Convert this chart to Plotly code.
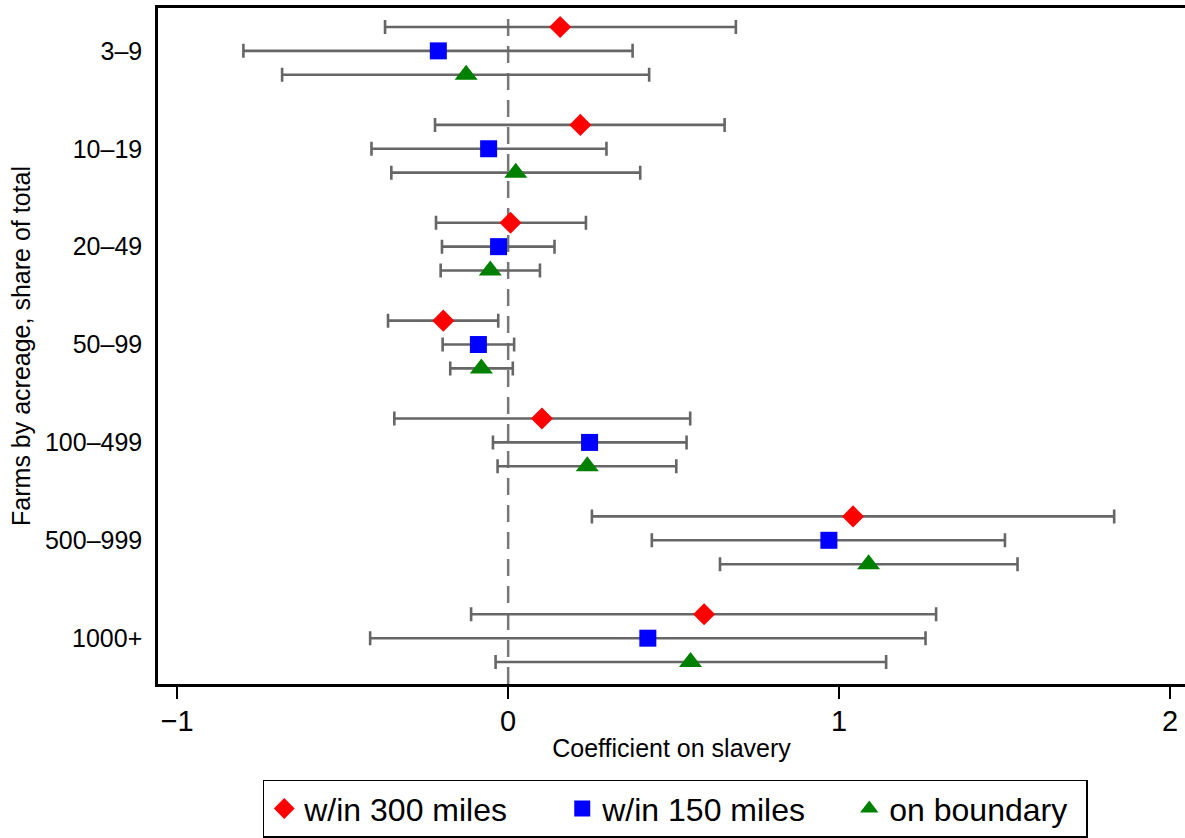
import plotly.graph_objects as go

categories = ["3\u20139", "10\u201319", "20\u201349", "50\u201399", "100\u2013499", "500\u2013999", "1000+"]
series_names = ["w/in 300 miles", "w/in 150 miles", "on boundary"]

# point estimates
est_300 = [0.157, 0.218, 0.007, -0.196, 0.102, 1.042, 0.592]
est_150 = [-0.211, -0.059, -0.029, -0.090, 0.246, 0.969, 0.422]
est_bnd = [-0.127, 0.023, -0.054, -0.081, 0.239, 1.089, 0.551]

# confidence interval bounds
lo_300 = [-0.372, -0.221, -0.218, -0.363, -0.344, 0.253, -0.112]
hi_300 = [0.688, 0.654, 0.235, -0.030, 0.550, 1.831, 1.293]
lo_150 = [-0.800, -0.413, -0.200, -0.198, -0.046, 0.434, -0.417]
hi_150 = [0.376, 0.297, 0.140, 0.018, 0.539, 1.501, 1.261]
lo_bnd = [-0.683, -0.353, -0.204, -0.175, -0.032, 0.640, -0.038]
hi_bnd = [0.426, 0.399, 0.096, 0.014, 0.508, 1.539, 1.142]

x_ticks = [-1, 0, 1, 2]
x_tick_text = ["\u22121", "0", "1", "2"]

FONT = "Liberation Sans, Arial, Helvetica, sans-serif"
ERR_COLOR = "#666666"

specs = [
    (series_names[0], est_300, lo_300, hi_300, "diamond", 17, "#ff0000", -0.244, 253),
    (series_names[1], est_150, lo_150, hi_150, "square", 17, "#0000ff", 0.0, 242),
    (series_names[2], est_bnd, lo_bnd, hi_bnd, "triangle-up", 20, "#008000", 0.244, 192),
]

fig = go.Figure()

for name, est, lo, hi, sym, sz, col, off, lw in specs:
    ypos = [i + 1 + off for i in range(len(categories))]
    fig.add_trace(go.Scatter(
        x=est, y=ypos, mode="markers", name=name,
        marker=dict(symbol=sym, size=sz, color=col, line=dict(width=0)),
        error_x=dict(type="data", symmetric=False,
                     array=[h - e for h, e in zip(hi, est)],
                     arrayminus=[e - l for e, l in zip(est, lo)],
                     color=ERR_COLOR, thickness=2.6, width=7),
        legendwidth=lw,
    ))

fig.add_shape(type="line", xref="x", yref="paper", x0=0, x1=0, y0=0, y1=0.99,
              line=dict(color="#777777", width=2.5, dash="17px,10px"), layer="below")

fig.update_layout(
    width=1185, height=838,
    margin=dict(l=158, r=0, t=8, b=152),
    paper_bgcolor="white", plot_bgcolor="white",
    font=dict(family=FONT, color="black"),
    showlegend=True,
    legend=dict(
        orientation="h", x=0.102, xanchor="left", y=-0.1416, yanchor="top",
        bordercolor="black", borderwidth=1.5, bgcolor="white",
        font=dict(size=32, family=FONT), itemwidth=30,
    ),
    xaxis=dict(
        range=[-1.058, 2.045], tickvals=x_ticks, ticktext=x_tick_text,
        showgrid=False, zeroline=False, showline=True, linecolor="black", linewidth=2.5,
        mirror=True, ticks="outside", ticklen=12, tickwidth=1.5, tickcolor="black",
        tickfont=dict(size=29), ticklabelstandoff=-3,
        title=dict(text="Coefficient on slavery", font=dict(size=25), standoff=4),
    ),
    yaxis=dict(
        range=[7.468, 0.562], tickvals=list(range(1, len(categories) + 1)), ticktext=categories,
        showgrid=False, zeroline=False, showline=True, linecolor="black", linewidth=2.5,
        ticks="", tickfont=dict(size=25), ticklabelstandoff=8,
        title=dict(text="Farms by acreage, share of total", font=dict(size=25), standoff=8),
    ),
)

fig.write_html("out.html", config={"displayModeBar": False},
               post_script="document.body.style.margin='0';")
